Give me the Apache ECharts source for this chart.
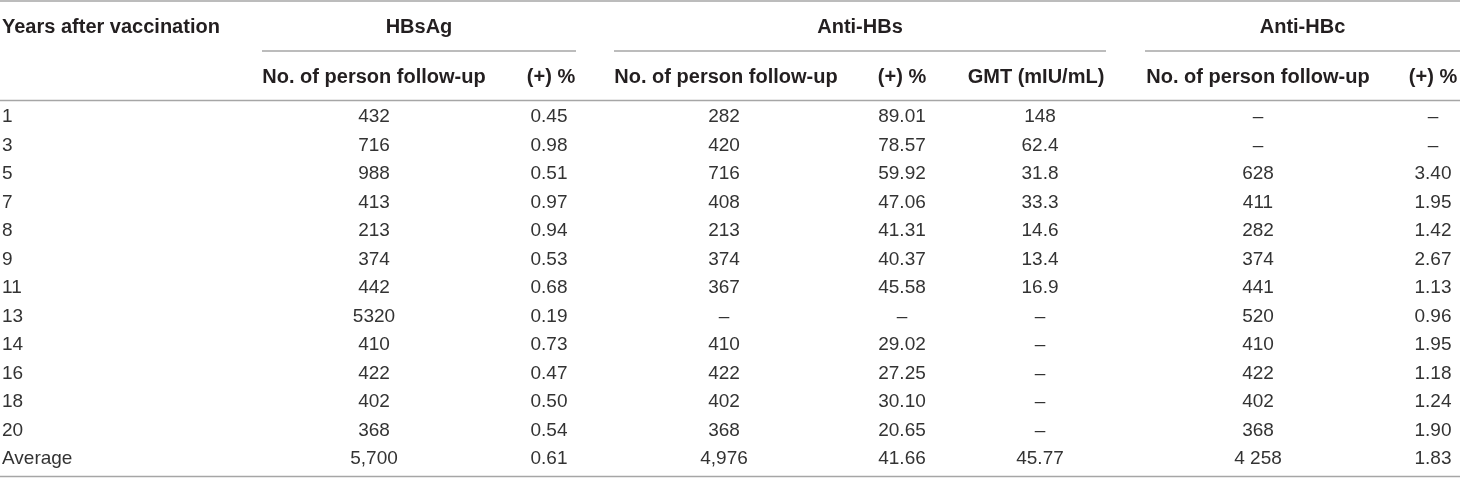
<!DOCTYPE html>
<html>
<head>
<meta charset="utf-8">
<script src="https://cdn.jsdelivr.net/npm/echarts@6/dist/echarts.min.js"></script>
<style>
  html, body { margin: 0; padding: 0; background: #fff; }
  #main { width: 1460px; height: 480px; }
</style>
</head>
<body>
<div id="main"></div>
<script>
// table content
var years = ['1', '3', '5', '7', '8', '9', '11', '13', '14', '16', '18', '20', 'Average'];
var hbsagCount = ['432', '716', '988', '413', '213', '374', '442', '5320', '410', '422', '402', '368', '5,700'];
var hbsagPos = ['0.45', '0.98', '0.51', '0.97', '0.94', '0.53', '0.68', '0.19', '0.73', '0.47', '0.50', '0.54', '0.61'];
var antiHbsCount = ['282', '420', '716', '408', '213', '374', '367', '–', '410', '422', '402', '368', '4,976'];
var antiHbsPos = ['89.01', '78.57', '59.92', '47.06', '41.31', '40.37', '45.58', '–', '29.02', '27.25', '30.10', '20.65', '41.66'];
var antiHbsGmt = ['148', '62.4', '31.8', '33.3', '14.6', '13.4', '16.9', '–', '–', '–', '–', '–', '45.77'];
var antiHbcCount = ['–', '–', '628', '411', '282', '374', '441', '520', '410', '422', '402', '368', '4 258'];
var antiHbcPos = ['–', '–', '3.40', '1.95', '1.42', '2.67', '1.13', '0.96', '1.95', '1.18', '1.24', '1.90', '1.83'];

var groupHeaders = ['HBsAg', 'Anti-HBs', 'Anti-HBc'];
var subHeaders = ['No. of person follow-up', '(+) %', 'No. of person follow-up', '(+) %',
                  'GMT (mIU/mL)', 'No. of person follow-up', '(+) %'];
var firstHeader = 'Years after vaccination';

// layout (pixels along the hidden 0..1460 x axis)
var colX = [374, 549, 724, 902, 1040, 1258, 1433];
var headX = [374, 551, 726, 902, 1036, 1258, 1433];
var groupLine = [[262, 576], [614, 1106], [1145, 1460]];

var ruleColor = '#a6a6a6';
var headFont = 'bold 20px "Liberation Sans", Arial, sans-serif';
var cellFont = '19px "Liberation Sans", Arial, sans-serif';

var chart = echarts.init(document.getElementById('main'), null, { renderer: 'canvas' });

function column(texts, x, align) {
    return {
        type: 'custom',
        silent: true,
        data: texts.map(function (t, i) { return [x, i]; }),
        renderItem: function (params, api) {
            var p = api.coord([api.value(0), api.value(1)]);
            return {
                type: 'text',
                x: p[0],
                y: p[1],
                style: {
                    text: texts[params.dataIndex],
                    font: cellFont,
                    fill: '#333',
                    textAlign: align,
                    textVerticalAlign: 'middle'
                }
            };
        }
    };
}

var graphics = [];
function hline(x1, x2, y) {
    graphics.push({
        type: 'line', silent: true,
        shape: { x1: x1, y1: y, x2: x2, y2: y },
        style: { stroke: ruleColor, lineWidth: 1.6 }
    });
}
function htext(txt, x, y, align) {
    graphics.push({
        type: 'text', silent: true, x: x, y: y,
        style: { text: txt, font: headFont, fill: '#231f20', textAlign: align, textVerticalAlign: 'middle' }
    });
}

hline(0, 1460, 1);
hline(0, 1460, 100.5);
hline(0, 1460, 476.5);
groupLine.forEach(function (g) { hline(g[0], g[1], 51); });
htext(firstHeader, 2, 27, 'left');
groupHeaders.forEach(function (h, i) {
    htext(h, (groupLine[i][0] + groupLine[i][1]) / 2, 27, 'center');
});
subHeaders.forEach(function (h, i) { htext(h, headX[i], 77, 'center'); });

option = {
    animation: false,
    grid: { left: 0, right: 0, top: 102.75, bottom: 6.75 },
    xAxis: { type: 'value', min: 0, max: 1460, show: false },
    yAxis: { type: 'category', data: years, inverse: true, show: false },
    graphic: graphics,
    series: [
        column(years, 2, 'left'),
        column(hbsagCount, colX[0], 'center'),
        column(hbsagPos, colX[1], 'center'),
        column(antiHbsCount, colX[2], 'center'),
        column(antiHbsPos, colX[3], 'center'),
        column(antiHbsGmt, colX[4], 'center'),
        column(antiHbcCount, colX[5], 'center'),
        column(antiHbcPos, colX[6], 'center')
    ]
};

chart.setOption(option);
</script>
</body>
</html>
